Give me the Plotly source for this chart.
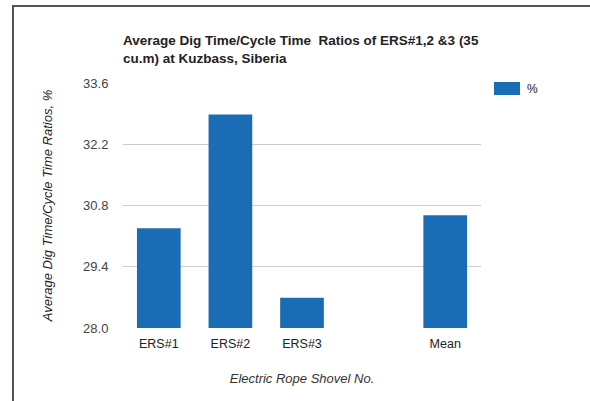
import plotly.graph_objects as go

categories = ["ERS#1", "ERS#2", "ERS#3", " ", "Mean"]
values = [30.28, 32.88, 28.69, None, 30.58]
series_name = "%"
y_ticks = [28.0, 29.4, 30.8, 32.2, 33.6]

W, H = 590, 401
L, R, T, B = 123, 481, 83, 328
BAR_COLOR = "#1a6cb5"

fig = go.Figure()
fig.add_trace(go.Bar(x=categories, y=values, name=series_name,
                     marker=dict(color=BAR_COLOR, line=dict(width=0)),
                     showlegend=False))

def px_x(p):
    return (p - L) / (R - L)

def px_y(p):
    return (B - p) / (B - T)

fig.update_layout(
    width=W, height=H, autosize=False,
    margin=dict(l=L, r=W - R, t=T, b=H - B, pad=0),
    paper_bgcolor="white", plot_bgcolor="white",
    font=dict(family="Arial, Liberation Sans, sans-serif", size=12, color="#444"),
    bargap=0.39,
    title=dict(text="<b>Average Dig Time/Cycle Time  Ratios of ERS#1,2 &3 (35<br>cu.m) at Kuzbass, Siberia</b>",
               x=0, xref="paper", xanchor="left", y=1 - 45 / H, yanchor="top",
               font=dict(size=13.5, color="#222")),
    xaxis=dict(type="category", showgrid=False, showline=False,
               ticks="outside", ticklen=4, tickcolor="rgba(0,0,0,0)",
               tickfont=dict(size=12.5, color="#222"),
               title=dict(text="<i>Electric Rope Shovel No.</i>", standoff=23,
                          font=dict(size=13, color="#333"))),
    yaxis=dict(range=[28.0, 33.6], tickvals=y_ticks, tickformat=".1f",
               showgrid=True, gridcolor="#cccccc", gridwidth=1, zeroline=False,
               showline=False, ticks="outside", ticklen=11, tickcolor="rgba(0,0,0,0)",
               tickfont=dict(size=13, color="#444"),
               title=dict(text="<i>Average Dig Time/Cycle Time Ratios, %</i>", standoff=27,
                          font=dict(size=13, color="#222"))),
    shapes=[
        dict(type="path", xref="paper", yref="paper",
             path=f"M {px_x(13)} {px_y(402)} L {px_x(13)} {px_y(6)} L {px_x(591)} {px_y(6)}",
             line=dict(color="#555", width=2)),
        dict(type="rect", xref="paper", yref="paper",
             x0=px_x(494), x1=px_x(520), y0=px_y(95), y1=px_y(82),
             fillcolor=BAR_COLOR, line=dict(width=0)),
    ],
    annotations=[dict(text=series_name, xref="paper", yref="paper",
                      x=px_x(525), y=px_y(88.5), xanchor="left", yanchor="middle",
                      showarrow=False, font=dict(size=12, color="#222"))],
)

fig.write_html("out.html", config={"displayModeBar": False},
               post_script="document.body.style.margin='0';")
